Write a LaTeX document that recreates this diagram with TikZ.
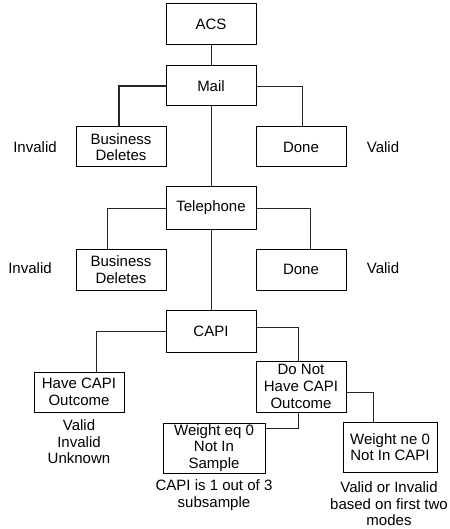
\documentclass[tikz,border=0pt]{standalone}
\usepackage{fontspec}
\setmainfont{Liberation Sans}
\usetikzlibrary{positioning,calc}
\tikzset{
  modebox/.style={draw=black, line width=1pt, minimum width=90pt, minimum height=41pt, align=center, inner sep=1pt, font=\fontsize{15}{16.7}\selectfont},
  outcome/.style={align=center, inner sep=0pt, font=\fontsize{15}{16.5}\selectfont},
  link/.style={draw=black!85, line width=0.9pt}
}

\begin{document}
\begin{tikzpicture}[x=1pt,y=-1pt]
        \useasboundingbox (0,0) rectangle (449,529);
        % Mail
        \node[modebox] at (211,24.5) (acs) {ACS};
        \node[modebox, minimum height=40pt] at (211,86) (mail) {Mail};
        \node[modebox, minimum height=40pt] at (121,147) (bdmail) {Business\\Deletes};
        \node[modebox, minimum height=40pt] at (301,147) (donemail) {Done};
        \node[outcome] at (35,147) (invmail) {Invalid};
        \node[outcome] at (383,147) (valmail) {Valid};

        % Telephone
        \node[modebox, minimum height=42pt] at (211,208) (tel) {Telephone};
        \node[modebox] at (121,269.5) (bdtel) {Business\\Deletes};
        \node[modebox] at (301,269.5) (donetel) {Done};
        \node[outcome] at (30,268) (invtel) {Invalid};
        \node[outcome] at (383,268) (valtel) {Valid};

        % CAPI
        \node[modebox, minimum height=42pt] at (211,331) (capi) {CAPI};
        \node[modebox, minimum height=40pt] at (79,392) (have) {Have CAPI\\Outcome};
        \node[modebox, minimum height=51pt] at (301,386.5) (donot) {Do Not\\Have CAPI\\Outcome};
        \node[modebox, minimum width=102pt, minimum height=50pt] at (214,448) (weq) {Weight eq 0\\Not In\\Sample};
        \node[modebox, minimum width=94pt, minimum height=50pt] at (390,447) (wne) {Weight ne 0\\Not In CAPI};
        \node[outcome] at (79,442) (haveout) {Valid\\Invalid\\Unknown};
        \node[outcome] at (214,495) (weqout) {CAPI is 1 out of 3\\subsample};
        \node[outcome] at (389,504) (wneout) {Valid or Invalid\\based on first two\\modes};

        % connectors
        \draw[link] (acs) -- (mail);
        \draw[link, line width=1.4pt] (mail.west) -| ([xshift=-2pt]bdmail.north);
        \draw[link] (mail.east) -| ([xshift=1pt]donemail.north);
        \draw[link] (mail) -- (tel);
        \draw[link] (tel.west) -| ([xshift=-14pt]bdtel.north);
        \draw[link] (tel.east) -| ([xshift=9pt]donetel.north);
        \draw[link] (tel) -- (capi);
        \draw[link] (capi.west) -| ([xshift=17pt]have.north);
        \draw[link] ([yshift=4pt]capi.east) -| ([xshift=-3pt]donot.north);
        \draw[link] ([xshift=-3pt]donot.south) |- ([yshift=20pt]weq.east);
        \draw[link] ([yshift=-5.5pt]donot.east) -| ([xshift=-17pt]wne.north);
\end{tikzpicture}
\end{document}
